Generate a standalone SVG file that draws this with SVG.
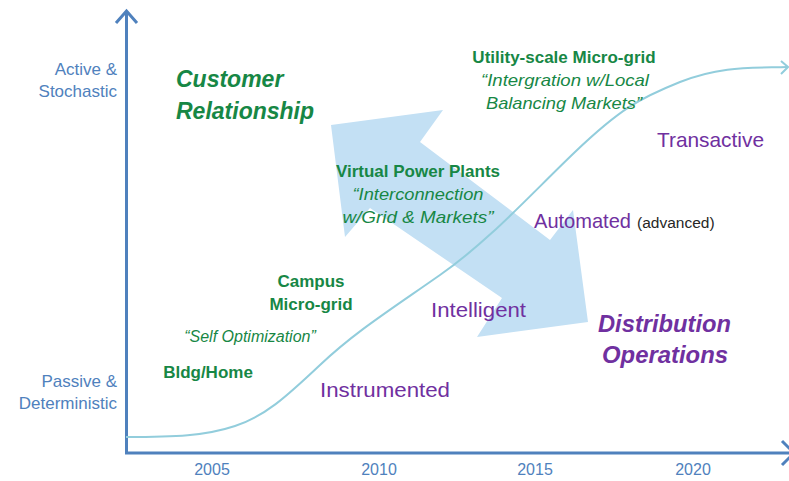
<svg xmlns="http://www.w3.org/2000/svg" width="789" height="481" viewBox="0 0 789 481">
<style>
.axis{fill:none;stroke:#4F81BD;stroke-width:3;stroke-linecap:butt}
.curve{fill:none;stroke:#92CDDC;stroke-width:2}
.ax{font-family:"Liberation Sans",Arial,sans-serif;font-size:17px;fill:#4F81BD;text-anchor:end}
.yr{font-family:"Liberation Sans",Arial,sans-serif;font-size:16px;fill:#4F81BD;text-anchor:middle}
.big{font-family:"Liberation Sans",Arial,sans-serif;font-size:23px;font-weight:bold;font-style:italic}
.g{fill:#178745}
.p{fill:#7030A0}
.gb{font-family:"Liberation Sans",Arial,sans-serif;font-size:17px;font-weight:bold;fill:#178745;text-anchor:middle}
.gi{font-family:"Liberation Sans",Arial,sans-serif;font-size:17px;font-style:italic;fill:#178745;text-anchor:middle}
.st{font-family:"Liberation Sans",Arial,sans-serif;font-size:21px;fill:#7030A0}
.sm{font-family:"Liberation Sans",Arial,sans-serif;font-size:15.5px;fill:#262626}
</style>
<rect width="789" height="481" fill="#FFFFFF"/>
<g id="big-arrow">
<polygon points="331,125 443,110 420,142 550,240 573,210 588,322 477,337 502,298 370,208 345,237" fill="#C3E0F4"/>
</g>
<g id="connectors">
<path class="axis" d="M126.5,453 V11"/>
<path class="axis" d="M116,23 L126.5,11 L137,23"/>
<path class="axis" d="M125,453 H789"/>
<path class="axis" d="M782,441 L794,453 L782,465"/>
<path class="curve" d="M126,437 C175,437 205,436 235,426 S285,398 320,365 S390,310 440,275 S530,195 575,152 S640,98 680,82 S750,68 787,67"/>
<path class="curve" d="M781,61 L788,67 L781,74"/>
</g>
<g id="axis-labels">
<text class="ax" x="117" y="75">Active &amp;</text>
<text class="ax" x="117" y="97">Stochastic</text>
<text class="ax" x="117" y="387">Passive &amp;</text>
<text class="ax" x="117" y="409">Deterministic</text>
<text class="yr" x="212" y="475">2005</text>
<text class="yr" x="379" y="475">2010</text>
<text class="yr" x="535" y="475">2015</text>
<text class="yr" x="693" y="475">2020</text>
</g>
<g id="customer-relationship">
<text class="big g" x="176" y="87">Customer</text>
<text class="big g" x="176" y="119">Relationship</text>
</g>
<g id="distribution-operations">
<text class="big p" x="598" y="332" textLength="133" lengthAdjust="spacingAndGlyphs">Distribution</text>
<text class="big p" x="602" y="363" textLength="126" lengthAdjust="spacingAndGlyphs">Operations</text>
</g>
<g id="utility-micro-grid">
<text class="gb" x="564" y="63">Utility-scale Micro-grid</text>
<text class="gi" x="565" y="86" textLength="168" lengthAdjust="spacingAndGlyphs">“Intergration w/Local</text>
<text class="gi" x="564" y="109" textLength="156" lengthAdjust="spacingAndGlyphs">Balancing Markets”</text>
</g>
<g id="virtual-power-plants">
<text class="gb" x="418" y="177">Virtual Power Plants</text>
<text class="gi" x="418" y="200" textLength="131" lengthAdjust="spacingAndGlyphs">“Interconnection</text>
<text class="gi" x="418" y="223" textLength="151" lengthAdjust="spacingAndGlyphs">w/Grid &amp; Markets”</text>
</g>
<g id="campus-micro-grid">
<text class="gb" x="311" y="287">Campus</text>
<text class="gb" x="311" y="310">Micro-grid</text>
<text class="gi" x="250" y="342" style="font-size:16px">“Self Optimization”</text>
</g>
<g id="bldg-home">
<text class="gb" x="208" y="378">Bldg/Home</text>
</g>
<g id="stages">
<text class="st" x="320" y="397" textLength="130" lengthAdjust="spacingAndGlyphs">Instrumented</text>
<text class="st" x="431" y="317" textLength="95" lengthAdjust="spacingAndGlyphs">Intelligent</text>
<text class="st" x="534" y="228" textLength="97" lengthAdjust="spacingAndGlyphs">Automated</text>
<text class="sm" x="637" y="228">(advanced)</text>
<text class="st" x="657" y="147" textLength="107" lengthAdjust="spacingAndGlyphs">Transactive</text>
</g>
</svg>
